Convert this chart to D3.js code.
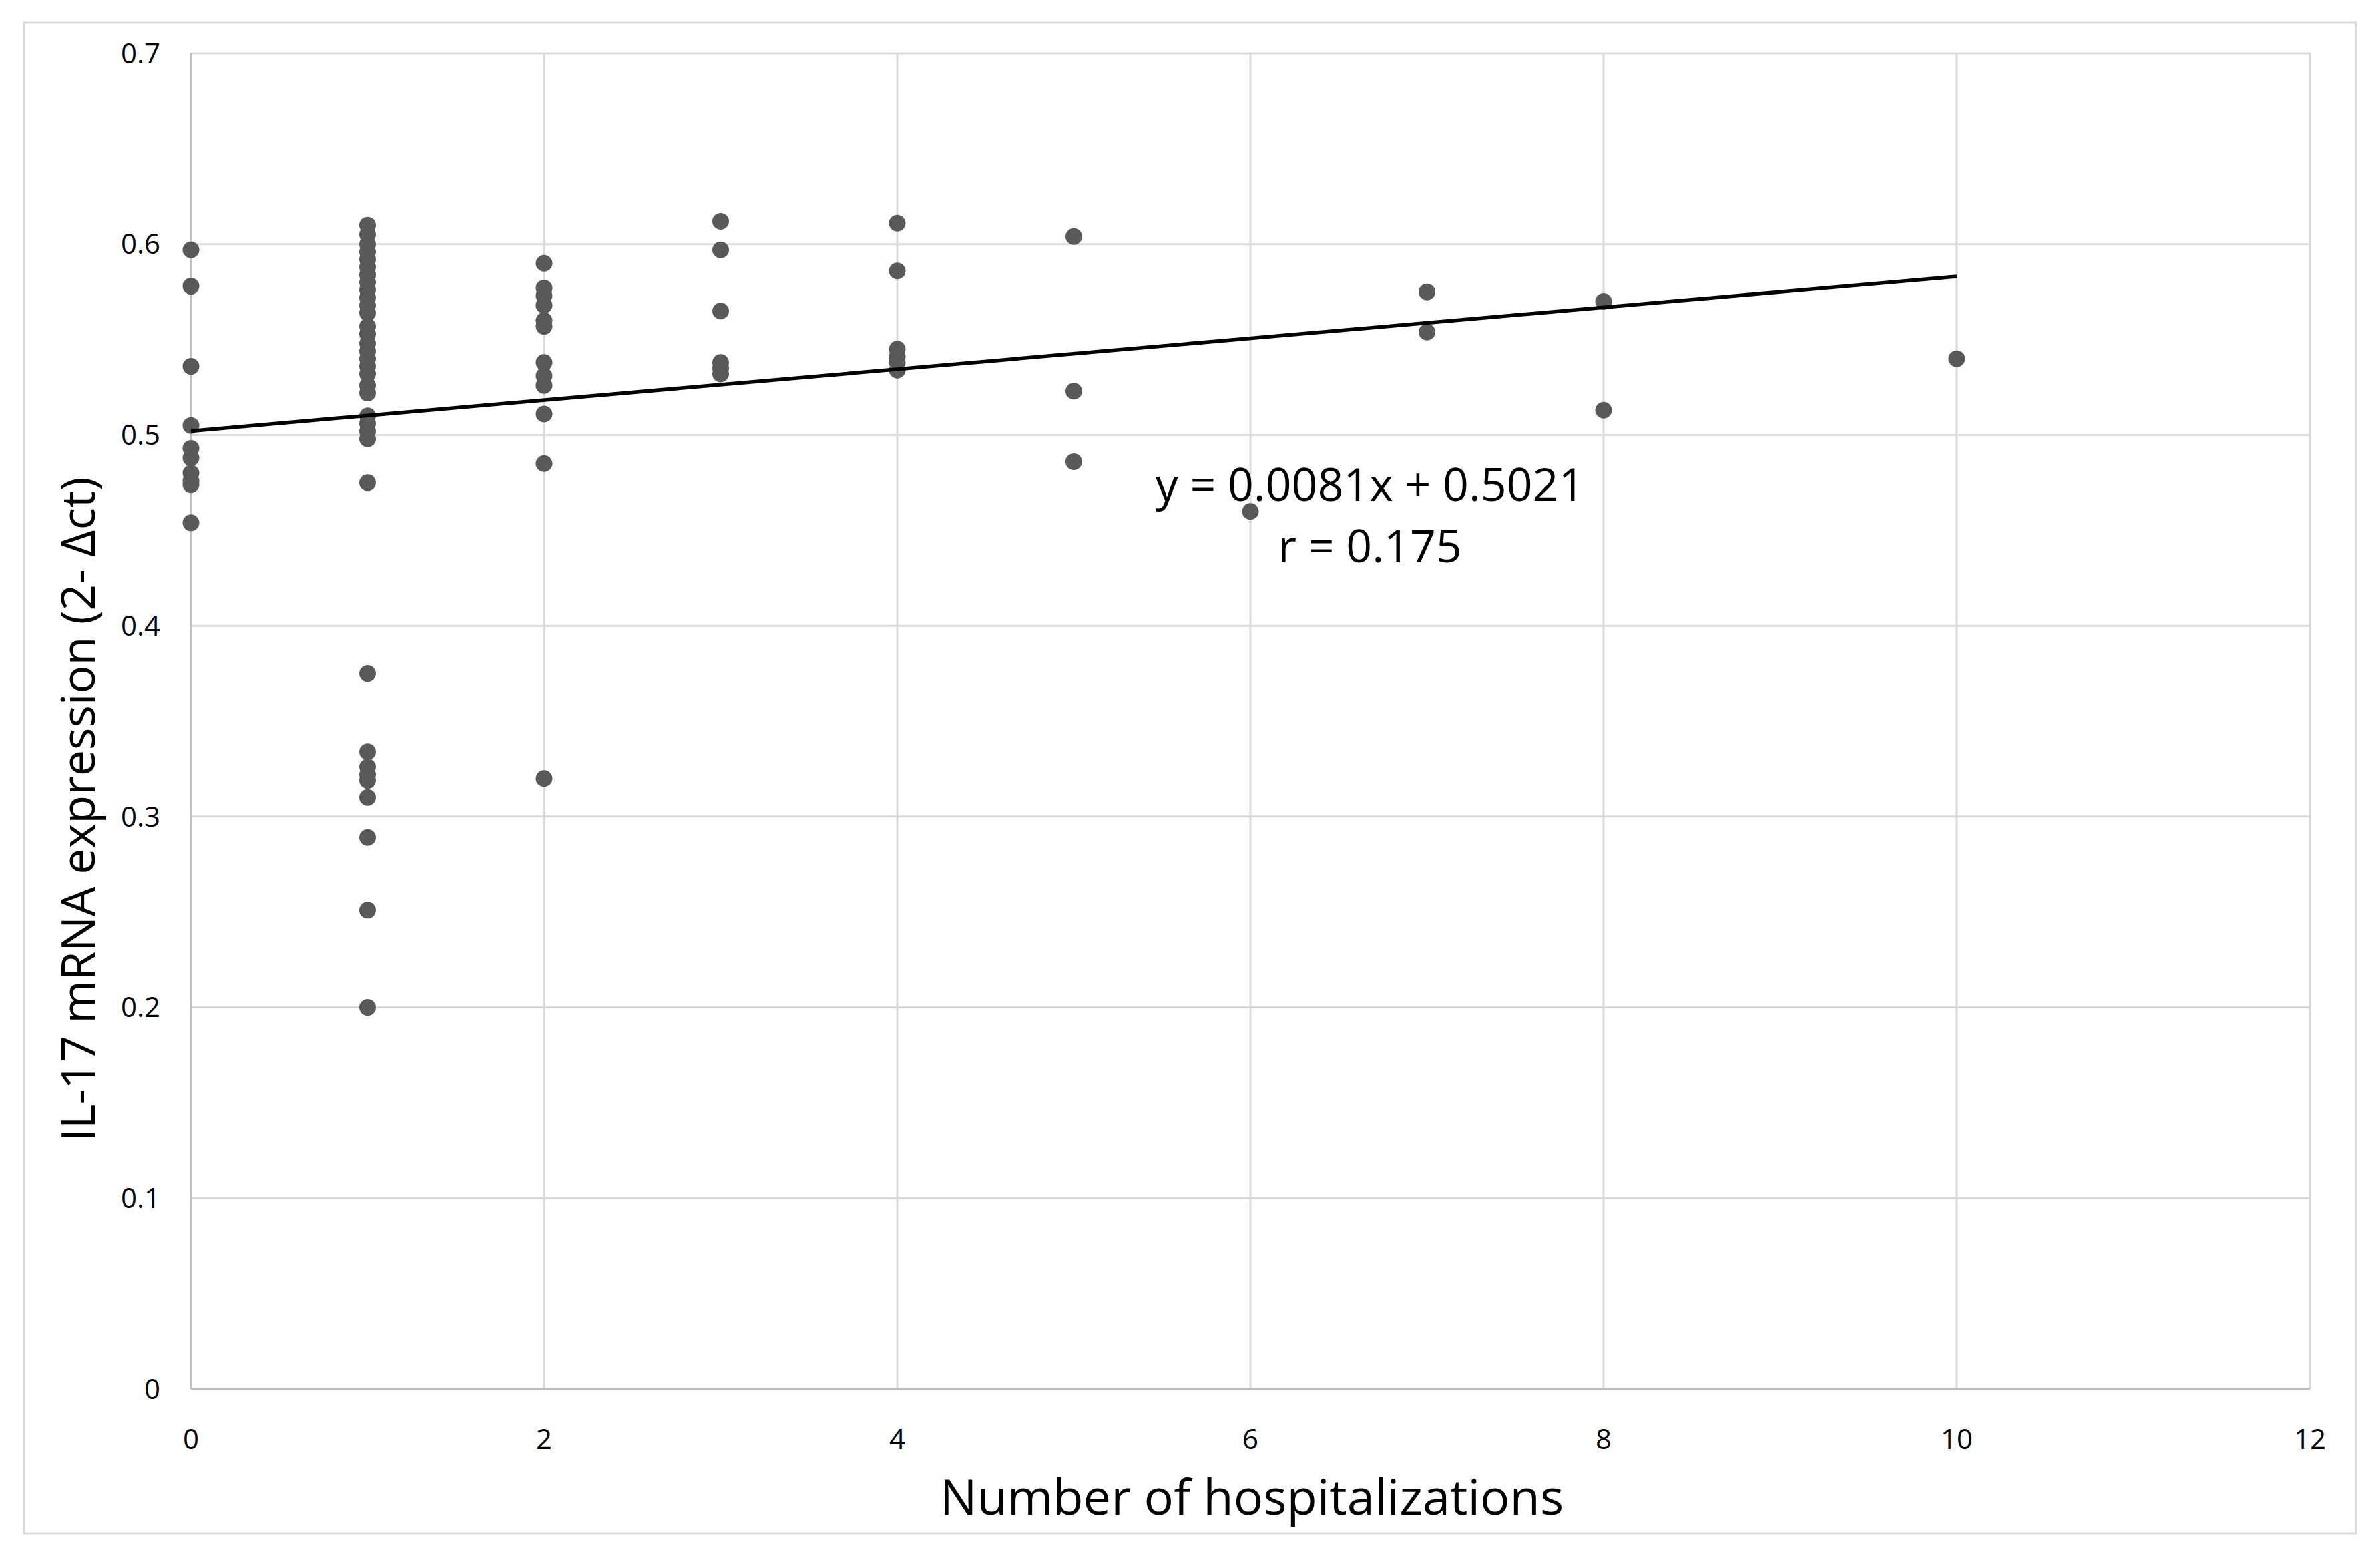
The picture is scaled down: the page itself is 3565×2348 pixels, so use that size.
<!DOCTYPE html>
<html>
<head>
<meta charset="utf-8">
<script src="https://cdn.jsdelivr.net/npm/d3@7"></script>
<style>
  html, body { margin: 0; padding: 0; background: #fff; }
  svg { display: block; }
  text { font-family: "Open Sans", "Noto Sans", sans-serif; fill: #000; }
  .tick { font-size: 42px; }
</style>
</head>
<body>
<svg></svg>
<script>
const W = 3565;
const H = 2348;
const plotLeft = 286, plotRight = 3460, plotTop = 80, plotBottom = 2080;

// number of hospitalizations and the IL-17 values read at each count
const hospitalizations = [0, 1, 2, 3, 4, 5, 6, 7, 8, 10];
const il17 = [
  [0.597, 0.578, 0.536, 0.505, 0.493, 0.488, 0.480, 0.476, 0.474, 0.454],
  [0.610, 0.605, 0.600, 0.596, 0.592, 0.588, 0.584, 0.580, 0.576, 0.572, 0.568, 0.564,
   0.557, 0.553, 0.548, 0.544, 0.540, 0.536, 0.532, 0.526, 0.522,
   0.510, 0.506, 0.502, 0.498, 0.475,
   0.375, 0.334, 0.326, 0.322, 0.319, 0.310, 0.289, 0.251, 0.200],
  [0.590, 0.577, 0.573, 0.568, 0.560, 0.557, 0.538, 0.531, 0.526, 0.511, 0.485, 0.320],
  [0.612, 0.597, 0.565, 0.538, 0.535, 0.532],
  [0.611, 0.586, 0.545, 0.541, 0.538, 0.534],
  [0.604, 0.523, 0.486],
  [0.460],
  [0.575, 0.554],
  [0.570, 0.513],
  [0.540]
];
const xTicks = [0, 2, 4, 6, 8, 10, 12];
const yTicks = [0, 0.1, 0.2, 0.3, 0.4, 0.5, 0.6, 0.7];
const slope = 0.0081, intercept = 0.5021;

const points = [];
hospitalizations.forEach((h, i) => il17[i].forEach((v) => points.push({ x: h, y: v })));

const svg = d3.select("svg").attr("width", W).attr("height", H);

const x = d3.scaleLinear().domain([0, 12]).range([plotLeft, plotRight]);
const y = d3.scaleLinear().domain([0, 0.7]).range([plotBottom, plotTop]);

// outer chart frame
svg.append("rect")
  .attr("x", 36).attr("y", 34)
  .attr("width", 3493).attr("height", 2262)
  .attr("fill", "#fff")
  .attr("stroke", "#d9d9d9")
  .attr("stroke-width", 3);

/** Grid lines */
svg.append("g")
  .selectAll("line")
  .data(yTicks.slice(1))
  .enter()
  .append("line")
  .attr("x1", plotLeft).attr("x2", plotRight)
  .attr("y1", (d) => y(d)).attr("y2", (d) => y(d))
  .attr("stroke", "#d9d9d9")
  .attr("stroke-width", 3);

svg.append("g")
  .selectAll("line")
  .data(xTicks.slice(1))
  .enter()
  .append("line")
  .attr("x1", (d) => x(d)).attr("x2", (d) => x(d))
  .attr("y1", plotTop).attr("y2", plotBottom)
  .attr("stroke", "#d9d9d9")
  .attr("stroke-width", 3);

// axis lines
svg.append("line")
  .attr("x1", plotLeft).attr("x2", plotRight).attr("y1", plotBottom).attr("y2", plotBottom)
  .attr("stroke", "#bfbfbf").attr("stroke-width", 3);
svg.append("line")
  .attr("x1", plotLeft).attr("x2", plotLeft).attr("y1", plotTop).attr("y2", plotBottom)
  .attr("stroke", "#bfbfbf").attr("stroke-width", 3);

/** Tick labels */
svg.append("g")
  .selectAll("text")
  .data(yTicks)
  .enter()
  .append("text")
  .attr("class", "tick")
  .attr("x", 240)
  .attr("y", (d) => y(d))
  .attr("dy", "0.35em")
  .attr("text-anchor", "end")
  .text((d) => (d === 0 ? "0" : d3.format(".1f")(d)));

svg.append("g")
  .selectAll("text")
  .data(xTicks)
  .enter()
  .append("text")
  .attr("class", "tick")
  .attr("x", (d) => x(d))
  .attr("y", 2170)
  .attr("text-anchor", "middle")
  .text((d) => d);

/** Points */
svg.append("g")
  .selectAll("circle")
  .data(points)
  .enter()
  .append("circle")
  .attr("cx", (d) => x(d.x))
  .attr("cy", (d) => y(d.y))
  .attr("r", 12.5)
  .attr("fill", "#595959");

/** Trend line */
svg.append("line")
  .attr("x1", x(0)).attr("y1", y(intercept))
  .attr("x2", x(10)).attr("y2", y(intercept + slope * 10))
  .attr("stroke", "#000")
  .attr("stroke-width", 5.5);

svg.append("text")
  .attr("x", 2052).attr("y", 750)
  .attr("text-anchor", "middle")
  .style("font-size", "68px")
  .text("y = 0.0081x + 0.5021");
svg.append("text")
  .attr("x", 2052).attr("y", 842)
  .attr("text-anchor", "middle")
  .style("font-size", "68px")
  .text("r = 0.175");

/** Axis titles */
svg.append("text")
  .attr("x", 1875).attr("y", 2268)
  .attr("text-anchor", "middle")
  .style("font-size", "74px")
  .text("Number of hospitalizations");

svg.append("text")
  .attr("transform", "translate(142,1212) rotate(-90)")
  .attr("text-anchor", "middle")
  .style("font-size", "70px")
  .text("IL-17 mRNA expression (2- Δct)");
</script>
</body>
</html>
